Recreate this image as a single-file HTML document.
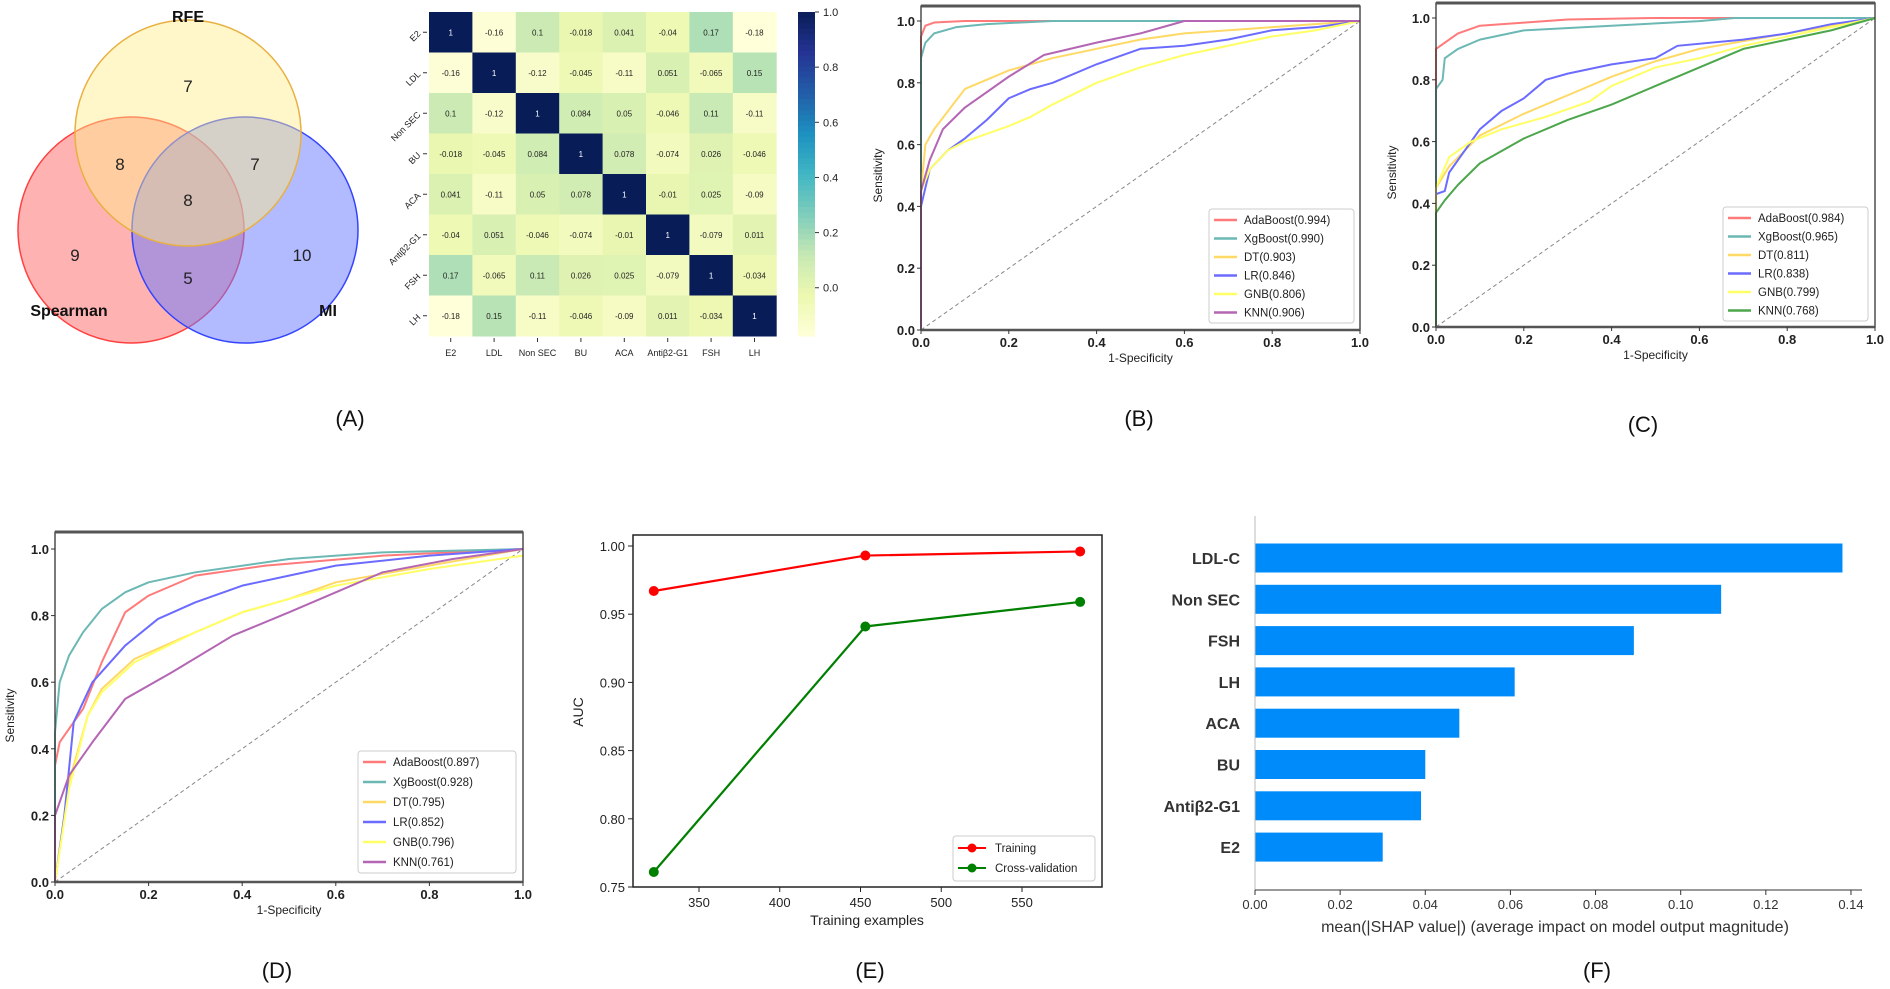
<!DOCTYPE html>
<html><head><meta charset="utf-8">
<style>
html,body{margin:0;padding:0;background:#fff;}
svg{display:block;font-family:"Liberation Sans",sans-serif;}
</style></head>
<body>
<svg id="fig" width="1890" height="989" viewBox="0 0 1890 989" xmlns="http://www.w3.org/2000/svg"></svg>
<script>
// ---------- DATA ----------
const heatLabels = ["E2","LDL","Non SEC","BU","ACA","Antiβ2-G1","FSH","LH"];
const heatRowE2 = [1,-0.16,0.1,-0.018,0.041,-0.04,0.17,-0.18];
const heatRowLDL = [-0.16,1,-0.12,-0.045,-0.11,0.051,-0.065,0.15];
const heatRowNon = [0.1,-0.12,1,0.084,0.05,-0.046,0.11,-0.11];
const heatRowBU = [-0.018,-0.045,0.084,1,0.078,-0.074,0.026,-0.046];
const heatRowACA = [0.041,-0.11,0.05,0.078,1,-0.01,0.025,-0.09];
const heatRowAnti = [-0.04,0.051,-0.046,-0.074,-0.01,1,-0.079,0.011];
const heatRowFSH = [0.17,-0.065,0.11,0.026,0.025,-0.079,1,-0.034];
const heatRowLH = [-0.18,0.15,-0.11,-0.046,-0.09,0.011,-0.034,1];
const heatMatrix = [heatRowE2,heatRowLDL,heatRowNon,heatRowBU,heatRowACA,heatRowAnti,heatRowFSH,heatRowLH];
const cbarTicks = [0.0,0.2,0.4,0.6,0.8,1.0];

const rocTicks = [0,0.2,0.4,0.6,0.8,1.0];
// Panel B (fpr,tpr pairs)
const bAda = [[0,0],[0,0.95],[0.01,0.985],[0.03,0.995],[0.1,1],[1,1]];
const bXg = [[0,0],[0,0.88],[0.01,0.93],[0.03,0.96],[0.08,0.98],[0.15,0.99],[0.3,1],[1,1]];
const bDT = [[0,0],[0,0.45],[0.01,0.6],[0.03,0.65],[0.1,0.78],[0.2,0.84],[0.3,0.88],[0.4,0.91],[0.5,0.94],[0.6,0.96],[0.8,0.98],[1,1]];
const bLR = [[0,0],[0,0.4],[0.02,0.52],[0.06,0.58],[0.1,0.62],[0.15,0.68],[0.2,0.75],[0.25,0.78],[0.3,0.8],[0.4,0.86],[0.5,0.91],[0.6,0.92],[0.7,0.94],[0.8,0.97],[0.9,0.98],[1,1]];
const bGNB = [[0,0],[0,0.45],[0.02,0.52],[0.06,0.58],[0.1,0.61],[0.2,0.66],[0.25,0.69],[0.3,0.73],[0.4,0.8],[0.5,0.85],[0.6,0.89],[0.7,0.92],[0.8,0.95],[0.9,0.97],[1,1]];
const bKNN = [[0,0],[0,0.45],[0.02,0.55],[0.05,0.65],[0.1,0.72],[0.2,0.82],[0.28,0.89],[0.4,0.93],[0.5,0.96],[0.6,1],[1,1]];
const bNames = ["AdaBoost(0.994)","XgBoost(0.990)","DT(0.903)","LR(0.846)","GNB(0.806)","KNN(0.906)"];
// Panel C
const cAda = [[0,0],[0,0.9],[0.02,0.92],[0.05,0.95],[0.1,0.975],[0.2,0.985],[0.3,0.995],[0.5,1],[1,1]];
const cXg = [[0,0],[0,0.77],[0.015,0.8],[0.02,0.87],[0.05,0.9],[0.1,0.93],[0.2,0.96],[0.4,0.975],[0.6,0.99],[0.68,1],[1,1]];
const cDT = [[0,0],[0,0.45],[0.03,0.52],[0.1,0.62],[0.2,0.69],[0.3,0.75],[0.4,0.81],[0.5,0.86],[0.6,0.9],[0.8,0.95],[1,1]];
const cLR = [[0,0],[0,0.43],[0.02,0.44],[0.03,0.5],[0.06,0.56],[0.1,0.64],[0.15,0.7],[0.2,0.74],[0.25,0.8],[0.3,0.82],[0.4,0.85],[0.5,0.87],[0.55,0.91],[0.7,0.93],[0.8,0.95],[0.9,0.98],[1,1]];
const cGNB = [[0,0],[0,0.45],[0.03,0.55],[0.08,0.6],[0.15,0.64],[0.25,0.68],[0.35,0.73],[0.4,0.78],[0.5,0.84],[0.6,0.87],[0.7,0.91],[0.8,0.94],[1,1]];
const cKNN = [[0,0],[0,0.37],[0.02,0.41],[0.05,0.46],[0.1,0.53],[0.2,0.61],[0.3,0.67],[0.4,0.72],[0.5,0.78],[0.6,0.84],[0.7,0.9],[0.8,0.93],[0.9,0.96],[1,1]];
const cNames = ["AdaBoost(0.984)","XgBoost(0.965)","DT(0.811)","LR(0.838)","GNB(0.799)","KNN(0.768)"];
// Panel D
const dAda = [[0,0],[0,0.35],[0.01,0.42],[0.03,0.46],[0.06,0.52],[0.1,0.66],[0.15,0.81],[0.2,0.86],[0.3,0.92],[0.45,0.95],[0.7,0.98],[1,1]];
const dXg = [[0,0],[0,0.45],[0.01,0.6],[0.03,0.68],[0.06,0.75],[0.1,0.82],[0.15,0.87],[0.2,0.9],[0.3,0.93],[0.5,0.97],[0.7,0.99],[1,1]];
const dDT = [[0,0],[0.03,0.3],[0.07,0.5],[0.1,0.58],[0.17,0.67],[0.3,0.75],[0.4,0.81],[0.5,0.85],[0.6,0.9],[0.8,0.95],[1,1]];
const dLR = [[0,0],[0.02,0.2],[0.04,0.48],[0.08,0.6],[0.15,0.71],[0.22,0.79],[0.3,0.84],[0.4,0.89],[0.5,0.92],[0.6,0.95],[0.8,0.98],[1,1]];
const dGNB = [[0,0],[0.03,0.28],[0.07,0.5],[0.1,0.57],[0.17,0.66],[0.3,0.75],[0.4,0.81],[0.5,0.85],[0.6,0.89],[0.8,0.94],[1,0.98]];
const dKNN = [[0,0],[0,0.2],[0.03,0.32],[0.08,0.42],[0.15,0.55],[0.25,0.63],[0.38,0.74],[0.5,0.81],[0.6,0.87],[0.7,0.93],[0.85,0.97],[1,1]];
const dNames = ["AdaBoost(0.897)","XgBoost(0.928)","DT(0.795)","LR(0.852)","GNB(0.796)","KNN(0.761)"];
// Panel E
const eX = [322,453,586];
const eTrain = [0.967,0.993,0.996];
const eCV = [0.761,0.941,0.959];
const eXTicks = [350,400,450,500,550];
const eYTicks = [0.75,0.80,0.85,0.90,0.95,1.00];
// Panel F
const fFeatures = ["LDL-C","Non SEC","FSH","LH","ACA","BU","Antiβ2-G1","E2"];
const fValues = [0.138,0.1095,0.089,0.061,0.048,0.040,0.039,0.030];
const fTicks = [0,0.02,0.04,0.06,0.08,0.10,0.12,0.14];

// ---------- HELPERS ----------
const NS="http://www.w3.org/2000/svg";
const svg=document.getElementById('fig');
function mk(tag,attrs,parent){const e=document.createElementNS(NS,tag);for(const k in attrs)e.setAttribute(k,attrs[k]);(parent||svg).appendChild(e);return e;}
function txt(s,attrs,parent){const e=mk('text',attrs,parent);e.textContent=s;return e;}
function grp(){return mk('g',{});}

// ---------- PANEL A: VENN ----------
const venn=grp();


const circles=[[131,230,'#ff6666','#ff4040','spearman-circle',0.5],[245,230,'#6677ff','#3344ff','mi-circle',0.5],[188,133,'#ffee88','#e8b040','rfe-circle',0.45]];
circles.forEach(c=>{const e=mk('circle',{cx:c[0],cy:c[1],r:113,fill:c[2],'fill-opacity':c[5],stroke:c[3],'stroke-width':1.5},venn);

});
const vnums=[['7',188,92],['8',120,170],['7',255,170],['8',188,206],['9',75,261],['5',188,284],['10',302,261]];
vnums.forEach(n=>{const e=txt(n[0],{x:n[1],y:n[2],'font-size':17,'text-anchor':'middle',fill:'#222'},venn);

});
[['RFE',188,22],['Spearman',69,316],['MI',328,316]].forEach(l=>{const e=txt(l[0],{x:l[1],y:l[2],'font-size':16,'font-weight':'bold','text-anchor':'middle',fill:'#111'},venn);

});

// ---------- HEATMAP ----------
const ylgnbu=['#ffffd9','#edf8b1','#c7e9b4','#7fcdbb','#41b6c4','#1d91c0','#225ea8','#253494','#081d58'];
function hex2(c){return [1,3,5].map(i=>parseInt(c.substr(i,2),16));}
function cmap(t){t=Math.max(0,Math.min(1,t));const p=t*8,i=Math.min(7,Math.floor(p)),f=p-i;const a=hex2(ylgnbu[i]),b=hex2(ylgnbu[i+1]);return 'rgb('+a.map((v,k)=>Math.round(v+(b[k]-v)*f)).join(',')+')';}
const hmin=-0.175,hmax=1;
const hx0=429,hy0=12,cw=43.4,ch=40.5;
const heat=grp();


heatMatrix.forEach((row,r)=>row.forEach((v,c)=>{
  const cell=mk('rect',{x:hx0+c*cw,y:hy0+r*ch,width:cw+0.5,height:ch+0.5,fill:cmap((v-hmin)/(hmax-hmin))},heat);
  
  
  const t=txt(String(v),{x:hx0+c*cw+cw/2,y:hy0+r*ch+ch/2+3,'font-size':8,'text-anchor':'middle',fill:v>0.5?'#fff':'#222'},heat);
  
  
}));
heatLabels.forEach((l,i)=>{
  const yy=hy0+i*ch+ch/2, xx=hx0+i*cw+cw/2;
  mk('line',{x1:hx0-6,x2:hx0-2,y1:yy,y2:yy,stroke:'#333'},heat);
  const yl=txt(l,{x:hx0-10,y:yy+3,'font-size':9,'text-anchor':'end',transform:'rotate(-45 '+(hx0-10)+' '+yy+')',fill:'#222'},heat);
  
  
  mk('line',{x1:xx,x2:xx,y1:hy0+8*ch+2,y2:hy0+8*ch+6,stroke:'#333'},heat);
  const xl=txt(l,{x:xx,y:hy0+8*ch+20,'font-size':9,'text-anchor':'middle',fill:'#222'},heat);
  
  
});
// colorbar
const cbx=798,cbw=17,cbTop=12,cbBot=336;
const cb=grp();


for(let i=0;i<60;i++){const t0=i/60;mk('rect',{x:cbx,y:cbBot-(i+1)*(cbBot-cbTop)/60,width:cbw,height:(cbBot-cbTop)/60+0.6,fill:cmap(t0+1/120)},cb);}
function cbY(v){return cbBot-(v-hmin)/(hmax-hmin)*(cbBot-cbTop);}
cbarTicks.forEach(v=>{mk('line',{x1:cbx+cbw,x2:cbx+cbw+4,y1:cbY(v),y2:cbY(v),stroke:'#333'},cb);
const t=txt(v.toFixed(1),{x:cbx+cbw+8,y:cbY(v)+4,'font-size':11,fill:'#222'},cb);

});

// ---------- ROC ----------
const rocColors=['#ff7a7a','#6cb8b4','#ffd966','#6b6bff','#ffff66','#b466b4'];
function roc(cfg){
  const g=grp();
  
  
  const X=f=>cfg.x0+f*(cfg.x1-cfg.x0), Y=t=>cfg.y0-t*cfg.unit;
  mk('line',{x1:X(0),y1:Y(0),x2:X(1),y2:Y(1),stroke:'#888','stroke-dasharray':'4,3','stroke-width':1},g);
  cfg.series.forEach((s,i)=>{
    const p=mk('polyline',{points:s.map(q=>X(q[0])+','+Y(q[1])).join(' '),fill:'none',stroke:cfg.colors[i],'stroke-width':2,'stroke-linejoin':'round'},g);
    
    
  });
  mk('rect',{x:cfg.x0,y:cfg.top,width:cfg.x1-cfg.x0,height:cfg.y0-cfg.top,fill:'none',stroke:'#333','stroke-width':1.3},g);
  mk('line',{x1:cfg.x0,x2:cfg.x1,y1:cfg.top,y2:cfg.top,stroke:'#555','stroke-width':3},g);
  mk('line',{x1:cfg.x0,x2:cfg.x1,y1:cfg.y0,y2:cfg.y0,stroke:'#555','stroke-width':2.5},g);
  rocTicks.forEach(v=>{
    mk('line',{x1:X(v),x2:X(v),y1:cfg.y0,y2:cfg.y0+4,stroke:'#333'},g);
    const xt=txt(v.toFixed(1),{x:X(v),y:cfg.y0+17,'font-size':13,'font-weight':'bold','text-anchor':'middle',fill:'#222'},g);
    
    
    mk('line',{x1:cfg.x0-4,x2:cfg.x0,y1:Y(v),y2:Y(v),stroke:'#333'},g);
    const yt=txt(v.toFixed(1),{x:cfg.x0-6,y:Y(v)+5,'font-size':13,'font-weight':'bold','text-anchor':'end',fill:'#222'},g);
    
    
  });
  const xl=txt('1-Specificity',{x:(cfg.x0+cfg.x1)/2,y:cfg.y0+32,'font-size':12,'text-anchor':'middle',fill:'#222'},g);
  
  
  const ym=(cfg.y0+Y(1))/2;
  const yl=txt('Sensitivity',{x:cfg.ylx,y:ym,'font-size':12,'text-anchor':'middle',transform:'rotate(-90 '+cfg.ylx+' '+ym+')',fill:'#222'},g);
  
  
  const lg=mk('g',{},g);
  
  
  mk('rect',{x:cfg.lx,y:cfg.ly,width:cfg.lw,height:cfg.lh,fill:'#fff',stroke:'#ccc',rx:3},lg);
  cfg.names.forEach((n,i)=>{
    const yy=cfg.ly+11+i*cfg.ls;
    mk('line',{x1:cfg.lx+5,x2:cfg.lx+28,y1:yy,y2:yy,stroke:cfg.colors[i],'stroke-width':2.5},lg);
    const t=txt(n,{x:cfg.lx+35,y:yy+4,'font-size':11.5,fill:'#222'},lg);
    
    
  });
}
roc({name:'roc-panel-b',x0:921,x1:1360,y0:330,unit:309,top:6,ylx:882,series:[bAda,bXg,bDT,bLR,bGNB,bKNN],names:bNames,colors:rocColors,lx:1209,ly:209,lw:145,lh:114,ls:18.5});
roc({name:'roc-panel-c',x0:1436,x1:1875,y0:327,unit:309,top:3,ylx:1396,series:[cAda,cXg,cDT,cLR,cGNB,cKNN],names:cNames,colors:['#ff7a7a','#6cb8b4','#ffd966','#6b6bff','#ffff66','#4ca64c'],lx:1723,ly:207,lw:145,lh:114,ls:18.5});
roc({name:'roc-panel-d',x0:55,x1:523,y0:882,unit:333,top:532,ylx:14,series:[dAda,dXg,dDT,dLR,dGNB,dKNN],names:dNames,colors:rocColors,lx:358,ly:751,lw:158,lh:122,ls:20});

// ---------- PANEL E ----------
const eg=grp();


const EX=v=>699+(v-350)*1.615, EY=v=>887-(v-0.75)*1364;
mk('rect',{x:633,y:535,width:469,height:352,fill:'none',stroke:'#222','stroke-width':1.5},eg);
eXTicks.forEach(v=>{mk('line',{x1:EX(v),x2:EX(v),y1:887,y2:892,stroke:'#222'},eg);
const t=txt(String(v),{x:EX(v),y:907,'font-size':13,'text-anchor':'middle',fill:'#222'},eg);

});
eYTicks.forEach(v=>{mk('line',{x1:628,x2:633,y1:EY(v),y2:EY(v),stroke:'#222'},eg);
const t=txt(v.toFixed(2),{x:625,y:EY(v)+5,'font-size':13,'text-anchor':'end',fill:'#222'},eg);

});
const exl=txt('Training examples',{x:867,y:925,'font-size':14,'text-anchor':'middle',fill:'#222'},eg);


const eyl=txt('AUC',{x:583,y:712,'font-size':14,'text-anchor':'middle',transform:'rotate(-90 583 712)',fill:'#222'},eg);


[[eTrain,'#ff0000','training-line'],[eCV,'#008000','cross-validation-line']].forEach(s=>{
  const p=mk('polyline',{points:eX.map((x,i)=>EX(x)+','+EY(s[0][i])).join(' '),fill:'none',stroke:s[1],'stroke-width':2.2},eg);
  
  
  eX.forEach((x,i)=>{const c=mk('circle',{cx:EX(x),cy:EY(s[0][i]),r:5,fill:s[1]},eg);
  
  });
});
const elg=mk('g',{},eg);


mk('rect',{x:953,y:836,width:142,height:45,fill:'#fff',stroke:'#ccc',rx:3},elg);
[['Training','#ff0000',848],['Cross-validation','#008000',868]].forEach(l=>{
  mk('line',{x1:958,x2:986,y1:l[2],y2:l[2],stroke:l[1],'stroke-width':2},elg);
  mk('circle',{cx:972,cy:l[2],r:4.5,fill:l[1]},elg);
  const t=txt(l[0],{x:995,y:l[2]+4,'font-size':11.5,fill:'#222'},elg);
  
  
});

// ---------- PANEL F ----------
const fg=grp();


const FX=v=>1255+v*4257, FY=i=>558+i*41.3;
fValues.forEach((v,i)=>{
  const b=mk('rect',{x:FX(0),y:FY(i)-14.5,width:FX(v)-FX(0),height:29,fill:'#008bfb'},fg);
  
  
  const t=txt(fFeatures[i],{x:1240,y:FY(i)+6,'font-size':16,'font-weight':'bold','text-anchor':'end',fill:'#333'},fg);
  
  
});
mk('line',{x1:1255,x2:1255,y1:516,y2:890,stroke:'#bbb','stroke-width':1},fg);
mk('line',{x1:1255,x2:1862,y1:890,y2:890,stroke:'#333','stroke-width':1},fg);
fTicks.forEach(v=>{mk('line',{x1:FX(v),x2:FX(v),y1:890,y2:895,stroke:'#333'},fg);
const t=txt(v.toFixed(2),{x:FX(v),y:909,'font-size':13,'text-anchor':'middle',fill:'#333'},fg);

});
const fxl=txt('mean(|SHAP value|) (average impact on model output magnitude)',{x:1555,y:932,'font-size':16,'text-anchor':'middle',fill:'#333'},fg);



// ---------- PANEL LETTERS ----------
[['(A)',350,426],['(B)',1139,426],['(C)',1643,432],['(D)',277,978],['(E)',870,978],['(F)',1597,978]].forEach(l=>{
  const t=txt(l[0],{x:l[1],y:l[2],'font-size':22,'text-anchor':'middle',fill:'#111'});
  
  
});
</script>
</body></html>
